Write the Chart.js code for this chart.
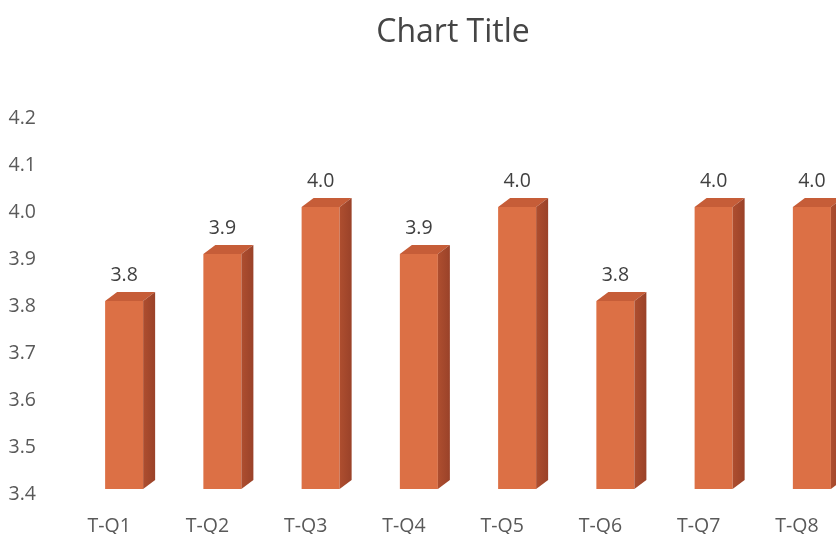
<!DOCTYPE html>
<html lang="en">

<head>
    <meta charset="UTF-8">
    <title>Chart Title</title>
    <script src="https://cdn.jsdelivr.net/npm/chart.js@4.4.0/dist/chart.umd.min.js"></script>
    <style>
        body { margin: 0; background: #fff; overflow: hidden; }
        .quadro { width: 836px; height: 534px; overflow: hidden; }
    </style>
</head>

<body>
    <div class="quadro">
        <canvas id="grafico" width="906" height="534"></canvas>
    </div>
</body>

</html>

<script>
    // dados do grafico
    const categorias = ['T-Q1', 'T-Q2', 'T-Q3', 'T-Q4', 'T-Q5', 'T-Q6', 'T-Q7', 'T-Q8'];
    const valores = [3.8, 3.9, 4.0, 3.9, 4.0, 3.8, 4.0, 4.0];
    const eixoMin = 3.4;
    const eixoMax = 4.2;
    const passo = 0.1;

    const corFrente = '#DC7045';
    const corTopo = '#C65D38';
    const corTexto = '#595959';
    const fonte = "'Open Sans', sans-serif";

    // desenha a face de cima e a lateral de cada barra (efeito 3D) e o valor
    const barras3D = {
        id: 'barras3D',
        afterDatasetsDraw(chart) {
            const ctx = chart.ctx;
            const meta = chart.getDatasetMeta(0);
            const base = chart.scales.y.getPixelForValue(eixoMin);
            const dx = 12, dy = 9;
            ctx.save();
            meta.data.forEach((barra, i) => {
                const { x, y, width } = barra.getProps(['x', 'y', 'width'], true);
                const esq = x - width / 2;
                const dir = x + width / 2;

                ctx.fillStyle = corTopo;
                ctx.beginPath();
                ctx.moveTo(esq, y);
                ctx.lineTo(dir, y);
                ctx.lineTo(dir + dx, y - dy);
                ctx.lineTo(esq + dx, y - dy);
                ctx.closePath();
                ctx.fill();

                let grad = ctx.createLinearGradient(dir, 0, dir + dx, 0);
                grad.addColorStop(0, '#AE4E2F');
                grad.addColorStop(1, '#9A4229');
                ctx.fillStyle = grad;
                ctx.beginPath();
                ctx.moveTo(dir, y);
                ctx.lineTo(dir + dx, y - dy);
                ctx.lineTo(dir + dx, base - dy);
                ctx.lineTo(dir, base);
                ctx.closePath();
                ctx.fill();

                ctx.fillStyle = '#404040';
                ctx.font = `19.5px ${fonte}`;
                ctx.textAlign = 'center';
                ctx.textBaseline = 'middle';
                ctx.fillText(valores[i].toFixed(1), x, y - dy - 17);
            });
            ctx.restore();
        }
    };

    const config = {
        type: 'bar',
        data: {
            labels: categorias,
            datasets: [{
                label: 'Valor',
                data: valores,
                backgroundColor: corFrente,
                borderWidth: 0,
                categoryPercentage: 1,
                barPercentage: 0.387
            }]
        },
        options: {
            responsive: false,
            animation: false,
            layout: { padding: 0 },
            plugins: {
                legend: { display: false },
                tooltip: { enabled: false },
                title: {
                    display: true,
                    text: 'Chart Title',
                    color: '#454545',
                    font: { family: fonte, size: 32, weight: 'normal' },
                    padding: { top: 14, bottom: 60.6 }
                }
            },
            scales: {
                x: {
                    grid: { display: false },
                    border: { display: false },
                    ticks: {
                        color: corTexto,
                        font: { family: fonte, size: 19.5 },
                        labelOffset: -15,
                        padding: 18
                    },
                    afterFit(scale) { scale.height = 45; }
                },
                y: {
                    min: eixoMin,
                    max: eixoMax,
                    grid: { display: false },
                    border: { display: false },
                    ticks: {
                        stepSize: passo,
                        color: corTexto,
                        font: { family: fonte, size: 19.5 },
                        padding: 31,
                        labelOffset: 5,
                        callback: (v) => v.toFixed(1)
                    },
                    afterFit(scale) { scale.width = 75; }
                },
                // eixo vazio na direita so para reservar espaco (titulo continua centrado no canvas)
                espaco: {
                    position: 'right',
                    grid: { display: false },
                    border: { display: false },
                    ticks: { display: false },
                    afterFit(scale) { scale.width = 45; }
                }
            }
        },
        plugins: [barras3D]
    };

    new Chart(document.getElementById('grafico'), config);
</script>
